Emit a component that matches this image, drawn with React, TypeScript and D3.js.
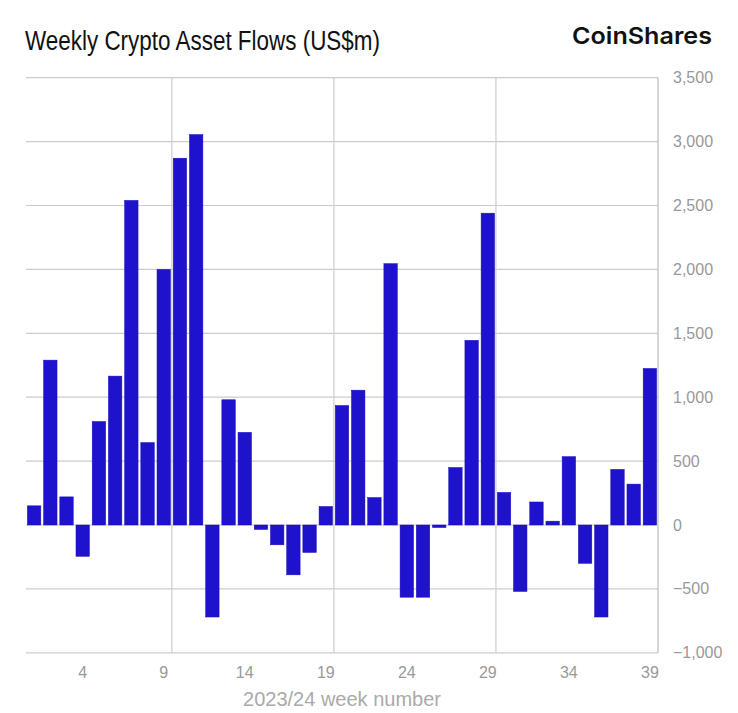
import React from "react";
import * as d3 from "d3";

const weeks = d3.range(1, 40);
const flows = [
  150, 1290, 220, -245, 810, 1165, 2540, 645, 2000, 2870,
  3055, -720, 980, 725, -35, -155, -390, -215, 145, 935,
  1055, 215, 2045, -565, -565, -20, 450, 1445, 2440, 255,
  -520, 180, 30, 535, -300, -720, 435, 320, 1225,
];
const yTicks = [-1000, -500, 0, 500, 1000, 1500, 2000, 2500, 3000, 3500];
const xTickWeeks = [4, 9, 14, 19, 24, 29, 34, 39];
const vGridAfter = [9, 19, 29];

const W = 738;
const H = 713;
const left = 26;
const right = 658;
const top = 77.7;
const bottom = 652.8;
const FONT = "'Liberation Sans', Arial, sans-serif";

export default function App() {
  const x = d3
    .scaleBand<number>()
    .domain(weeks)
    .range([left, right])
    .paddingInner(0.17)
    .paddingOuter(0.085);
  const y = d3.scaleLinear().domain([-1000, 3500]).range([bottom, top]);
  const step = x.step();
  const fmt = d3.format(",");

  return (
    <svg
      width={W}
      height={H}
      style={{ position: "absolute", left: 0, top: 0, background: "#fff" }}
      fontFamily={FONT}
    >
      <rect width={W} height={H} fill="#fff" />
      <text x={25} y={50} fontSize={27.5} fill="#111" textLength={355} lengthAdjust="spacingAndGlyphs">
        Weekly Crypto Asset Flows (US$m)
      </text>
      <text
        x={572}
        y={43.5}
        fontSize={23.5}
        fontWeight={600}
        fill="#111"
        fontFamily="Inter, 'Liberation Sans', sans-serif"
        textLength={140}
        lengthAdjust="spacingAndGlyphs"
      >
        CoinShares
      </text>

      {yTicks.map((t) => (
        <line
          key={"h" + t}
          x1={left}
          x2={right}
          y1={y(t)}
          y2={y(t)}
          stroke="#cccccc"
          strokeWidth={1.2}
        />
      ))}
      {vGridAfter.map((w) => (
        <line
          key={"v" + w}
          x1={left + w * step}
          x2={left + w * step}
          y1={top}
          y2={bottom}
          stroke="#cccccc"
          strokeWidth={1.2}
        />
      ))}
      <line x1={right} x2={right} y1={top} y2={bottom} stroke="#bbbbbb" strokeWidth={1.2} />

      {weeks.map((w, i) => {
        const v = flows[i];
        const y0 = y(0);
        const yv = y(v);
        return (
          <rect
            key={"b" + w}
            x={x(w)}
            y={Math.min(y0, yv)}
            width={x.bandwidth()}
            height={Math.abs(yv - y0)}
            fill="#1e12cc"
            stroke="#1a0fb8"
            strokeWidth={0.5}
          />
        );
      })}

      {yTicks.map((t) => (
        <text key={"yl" + t} x={673} y={y(t) + 5.5} fontSize={16} fill="#999">
          {fmt(t)}
        </text>
      ))}
      {xTickWeeks.map((w) => (
        <text
          key={"xl" + w}
          x={(x(w) as number) + x.bandwidth() / 2}
          y={678}
          fontSize={16}
          fill="#999"
          textAnchor="middle"
        >
          {w}
        </text>
      ))}
      <text x={342} y={706} fontSize={20} fill="#aaa" textAnchor="middle">
        2023/24 week number
      </text>
    </svg>
  );
}
